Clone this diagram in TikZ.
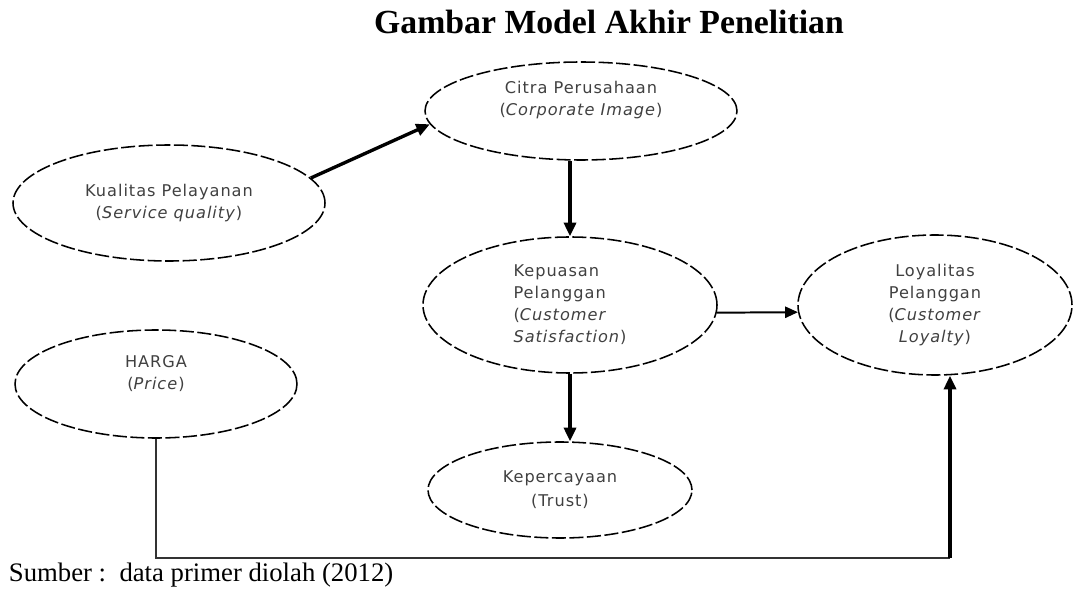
\documentclass[tikz,border=0pt]{standalone}
\usepackage{fontspec}
\setmainfont{Liberation Serif}
\newfontfamily\nodefont[LetterSpace=6]{DejaVu Sans}
\usetikzlibrary{shapes.geometric, arrows.meta}

\begin{document}
\begin{tikzpicture}[
		konstruk/.style={ellipse, draw, line width=1.1pt, dash pattern=on 10pt off 2.5pt, align=center, inner sep=0pt, text=black!75, font=\nodefont\fontsize{11.5}{15.6}\selectfont},
		panah/.style={line width=2.4pt, -{Triangle[length=3.4mm, width=3mm]}},
		panahtipis/.style={line width=1.4pt, -{Triangle[length=3.2mm, width=2.8mm]}}
	]
		\useasboundingbox (0, 0) rectangle (26.95, -14.725);
		% judul
		\node (judul) at (15.225, -0.55) {\fontsize{24}{27}\selectfont\bfseries Gambar Model Akhir Penelitian};
		% variabel
		\node[konstruk, minimum width=7.8cm, minimum height=2.9cm] (kualitas) at (4.225, -5.075) {Kualitas Pelayanan\\(\textit{Service quality})};
		\node[konstruk, minimum width=7.8cm, minimum height=2.45cm] (citra) at (14.525, -2.775) {Citra Perusahaan\\(\textit{Corporate Image})\\[0.1cm]};
		\node[konstruk, minimum width=7.35cm, minimum height=3.4cm, align=left] (kepuasan) at (14.25, -7.625) {Kepuasan\\Pelanggan\\(\textit{Customer}\\\textit{Satisfaction})};
		\node[konstruk, minimum width=6.85cm, minimum height=3.5cm] (loyalitas) at (23.375, -7.625) {Loyalitas\\Pelanggan\\(\textit{Customer}\\\textit{Loyalty})};
		\node[konstruk, minimum width=7.05cm, minimum height=2.7cm] (harga) at (3.9, -9.6) {HARGA\\(\textit{Price})\\[0.05cm]};
		\node[konstruk, minimum width=6.6cm, minimum height=2.4cm] (trust) at (14.0, -12.25) {Kepercayaan\\[0.05cm](Trust)};
		% hubungan
		\draw[panah] (kualitas.10) -- (citra.185);
		\draw[panah] (citra.south -| kepuasan.north) -- (kepuasan.north);
		\draw[panah] (kepuasan.south) -- (kepuasan.south |- trust.north);
		\draw[panahtipis] (kepuasan.-3) -- (loyalitas.183);
		\coordinate (belok) at (23.75, -13.95);
		\draw[line width=1.4pt, black!80] (harga.south) |- (belok);
		\draw[panah] (belok) -- (belok |- loyalitas.south);
		% sumber
		\node[anchor=west] (sumber) at (0.1, -14.375) {\fontsize{19}{22}\selectfont Sumber :\ \ data primer diolah (2012)};
	\end{tikzpicture}
\end{document}
